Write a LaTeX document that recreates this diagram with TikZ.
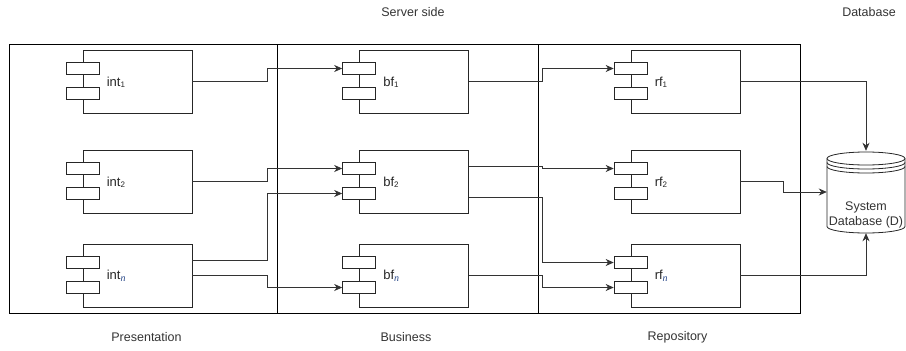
\documentclass[tikz,border=0pt]{standalone}
\usepackage{fontspec}
\setmainfont{Liberation Sans}
\newfontfamily\nfont{Liberation Serif}
\usetikzlibrary{arrows.meta,positioning,calc}
\definecolor{txt}{HTML}{333333}
\definecolor{ncol}{HTML}{2B4A8A}
\newcommand{\sbs}[1]{\raisebox{-0.15ex}{\fontsize{8}{8}\selectfont #1}}
\newcommand{\sbn}{\raisebox{-0.35ex}{\fontsize{10}{10}\selectfont\nfont\itshape\color{ncol}n}}
\begin{document}
\begin{tikzpicture}[x=1pt,y=-1pt,
 comp/.style={draw=black!85, line width=0.8pt, minimum width=109pt, minimum height=63pt, inner sep=0pt, fill=white},
 port/.style={draw=black!85, line width=0.8pt, minimum width=33pt, minimum height=12.5pt, inner sep=0pt, fill=white},
 lane/.style={draw=black, line width=0.8pt, minimum height=269pt, inner sep=0pt, anchor=north west},
 conn/.style={draw=black!80, line width=0.8pt, -{Stealth[length=8pt,width=7pt,inset=2.5pt]}},
 dbline/.style={draw=black!85, line width=0.8pt},
 lbl/.style={font=\fontsize{12.5}{15}\selectfont, text=txt, inner sep=0pt},
 clbl/.style={font=\fontsize{13}{15}\selectfont, text=black!85, anchor=west, inner sep=0pt}]
\useasboundingbox (0,0) rectangle (906,351);

% lanes
\node[lane, minimum width=268pt] (pres) at (9,44) {};
\node[lane, minimum width=261pt] (bus) at (277,44) {};
\node[lane, minimum width=262pt] (repo) at (538,44) {};

% components
\foreach \nm/\x/\y/\t in {int1/137.5/81.5/{int\sbs{1}}, int2/137.5/181.5/{int\sbs{2}}, intn/137.5/275.5/{int\sbn},
                          bf1/414/81.5/{bf\sbs{1}}, bf2/414/181.5/{bf\sbs{2}}, bfn/414/275.5/{bf\sbn},
                          rf1/685.5/81.5/{rf\sbs{1}}, rf2/685.5/181.5/{rf\sbs{2}}, rfn/685.5/275.5/{rf\sbn}} {
  \node[comp] (\nm) at (\x,\y) {};
  \node[port] (\nm a) at ([yshift=13pt]\nm.west) {};
  \node[port] (\nm b) at ([yshift=-12pt]\nm.west) {};
  \node[clbl] (\nm t) at ([xshift=24pt,yshift=-0.5pt]\nm.west) {\t};
}

% database cylinder
\node[minimum width=78pt, minimum height=82pt, inner sep=0pt] (db) at (866,192) {};
\draw[dbline, fill=white] (827,158.5) -- (827,226.5)
   arc[start angle=180,end angle=360,x radius=39pt,y radius=6.5pt] -- (905,158.5)
   arc[start angle=0,end angle=180,x radius=39pt,y radius=6.5pt] -- cycle;
\draw[dbline] (827,158.5) arc[start angle=180,end angle=360,x radius=39pt,y radius=6.5pt];
\draw[dbline] (827,162.5) arc[start angle=180,end angle=360,x radius=39pt,y radius=6.5pt];
\draw[dbline] (827,166.5) arc[start angle=180,end angle=360,x radius=39pt,y radius=6.5pt];
\node[lbl, align=center] (dbt) at (866,214.5) {System\\Database (D)};

% connectors presentation -> business
\draw[conn] (int1.east) -- ++(75,0) |- (bf1a.west);
\draw[conn] (int2.east) -- ++(75,0) |- (bf2a.west);
\draw[conn] ([yshift=15.5pt]intn.east) -- ++(75,0) |- (bf2b.west);
\draw[conn] (intn.east) -- ++(75,0) |- (bfnb.west);
% business -> repository
\draw[conn] (bf1.east) -- ++(73.5,0) |- (rf1a.west);
\draw[conn] ([yshift=15.5pt]bf2.east) -- ++(73.5,0) |- (rf2a.west);
\draw[conn] ([yshift=-15.5pt]bf2.east) -- ++(73.5,0) |- (rfna.west);
\draw[conn] (bfn.east) -- ++(73.5,0) |- (rfnb.west);
% repository -> database
\draw[conn] (rf1.east) -| (db.north);
\draw[conn] (rf2.east) -- ++(43,0) |- (db.west);
\draw[conn] (rfn.east) -| (db.south);

% labels
\node[lbl] (srv) at (413,12) {Server side};
\node[lbl] (dbl) at (869,12) {Database};
\node[lbl] (presl) at (146.5,337) {Presentation};
\node[lbl] (busl) at (406,337) {Business};
\node[lbl] (repol) at (677.5,337) {Repository};
\end{tikzpicture}
\end{document}
